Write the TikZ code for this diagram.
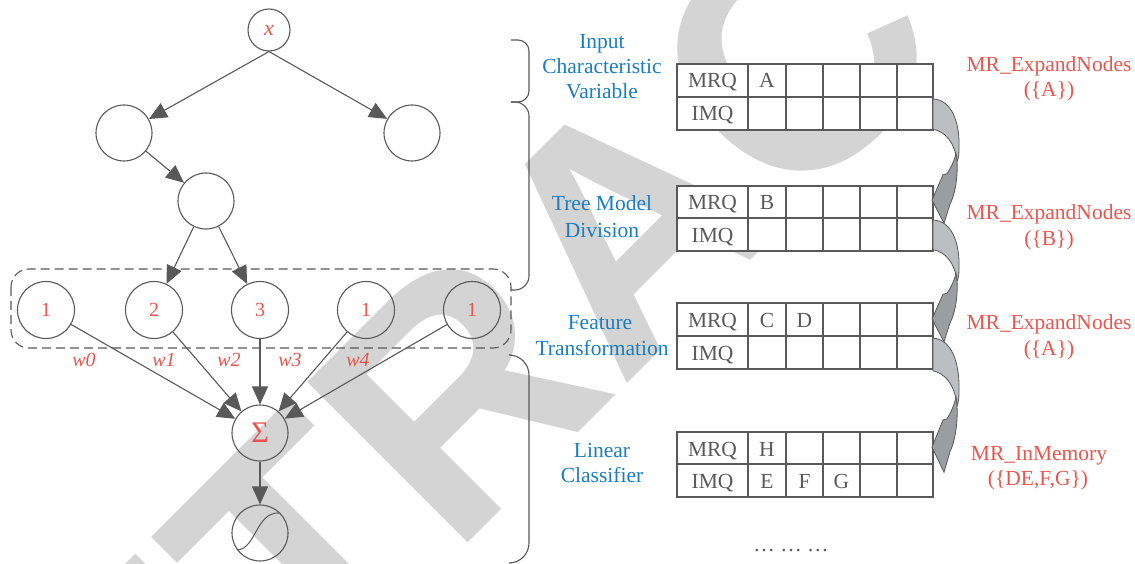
\documentclass[tikz,border=0pt]{standalone}
\usepackage{fontspec}
\setmainfont{Liberation Serif}
\newfontfamily\wmfont{Liberation Sans}
\usetikzlibrary{arrows.meta}
\definecolor{lg}{HTML}{595959}
\definecolor{tred}{RGB}{232,86,78}
\definecolor{tblue}{RGB}{26,125,196}
\definecolor{wmgray}{HTML}{D4D4D4}
\definecolor{alight}{HTML}{BDBEC2}
\definecolor{adark}{HTML}{9C9DA1}
\newcommand\qtable[3]{%
  \filldraw[tab,fill=white] (677,#1) rectangle (933,#3);
  \draw[tab] (677,#2) -- (933,#2);
  \foreach \xx in {748,786,823,860,897} \draw[tab] (\xx,#1) -- (\xx,#3);}
\newcommand\bentarrow[2]{%
  \begin{scope}[shift={(0,#1)},yscale=#2]
    \filldraw[fill=alight,draw=lg,line width=0.8pt] (933,2) .. controls (952,3) and (960,25) .. (959,52) .. controls (959,58) and (958,62) .. (957,64) .. controls (955,45) and (945,34) .. (933,32) -- cycle;
    \filldraw[fill=adark,draw=lg,line width=0.8pt] (956,56) .. controls (959,72) and (956,95) .. (950,106) -- (944,125) -- (932,102) -- (943,77) -- (947,76) .. controls (951,70) and (954,64) .. (956,56) -- cycle;
  \end{scope}}
\begin{document}
\begin{tikzpicture}[x=1pt,y=-1pt,
  circ/.style={circle,draw=lg,line width=1.1pt,minimum size=56pt,inner sep=0pt,text=tred,font=\fontsize{20}{24}\selectfont},
  arr/.style={draw=lg,line width=1.1pt,-{Triangle[length=18pt,width=16pt]}},
  tab/.style={draw=lg,line width=1.1pt},
  cell/.style={anchor=base,inner sep=0pt,text=lg,font=\fontsize{21.5}{25}\selectfont},
  blab/.style={anchor=base,inner sep=0pt,text=tblue,font=\fontsize{21.5}{25}\selectfont},
  rlab/.style={anchor=base,inner sep=0pt,text=tred,font=\fontsize{21.5}{25}\selectfont},
  wlab/.style={inner sep=0pt,text=tred,font=\fontsize{20}{24}\selectfont\itshape},
  brace/.style={draw=lg,line width=1.1pt}
]
\useasboundingbox (0,0) rectangle (1135,564);
\fill[white] (0,0) rectangle (1135,564);
% watermark
\begin{scope}
  \clip (0,0) rectangle (1135,564);
  \node[rotate=45,text=wmgray,inner sep=0pt,font=\wmfont\bfseries\fontsize{330}{330}\selectfont] (wm) at (625,225) {RETRACTED};
\end{scope}
% tree
\node[circ,minimum size=42pt,font=\fontsize{22}{24}\selectfont\itshape] (x) at (269,30) {x};
\node[circ] (l1) at (124,133) {};
\node[circ] (r1) at (412,133) {};
\node[circ] (m1) at (206,201) {};
\draw[dashed,dash pattern=on 9pt off 5pt,draw=lg,line width=1.1pt,rounded corners=18pt] (11,269) rectangle (511,348);
\node[circ,minimum size=57pt] (c1) at (46,310) {1};
\node[circ,minimum size=57pt] (c2) at (154,310) {2};
\node[circ,minimum size=57pt] (c3) at (260,310) {3};
\node[circ,minimum size=57pt] (c4) at (366,310) {1};
\node[circ,minimum size=57pt] (c5) at (472,310) {1};
\node[circ,font=\fontsize{30}{32}\selectfont] (sum) at (260,433) {Σ};
\node[circ] (sig) at (260,533) {};
\draw[draw=lg,line width=1pt] (237,550) .. controls (256,549) and (256,512) .. (279,513);
\draw[arr] (x.south) -- (l1);
\draw[arr] (x.south) -- (r1);
\draw[arr] (l1) -- (m1);
\draw[arr] (m1) -- (c2);
\draw[arr] (m1) -- (c3);
\foreach \n in {c1,c2,c3,c4,c5} \draw[arr] (\n) -- (sum);
\draw[arr] (sum) -- (sig);
\node[wlab] (w0) at (84,360) {w0};
\node[wlab] (w1) at (164,360) {w1};
\node[wlab] (w2) at (229,360) {w2};
\node[wlab] (w3) at (290,360) {w3};
\node[wlab] (w4) at (358,360) {w4};
% braces
\draw[brace,rounded corners=11pt] (511,40) -- (529,40) -- (529,102) -- (511,102);
\draw[brace,rounded corners=14pt] (511,102) -- (529,102) -- (529,290) -- (511,290);
\draw[brace,rounded corners=20pt] (511,355) -- (529,355) -- (529,563) -- (511,563);
% blue labels
\node[blab] (i1) at (602,49) {Input};
\node[blab] (i2) at (602,74) {Characteristic};
\node[blab] (i3) at (602,99) {Variable};
\node[blab] (t1) at (602,211) {Tree Model};
\node[blab] (t2) at (602,237) {Division};
\node[blab] (f1) at (600,329) {Feature};
\node[blab] (f2) at (602,355) {Transformation};
\node[blab] (k1) at (602,457) {Linear};
\node[blab] (k2) at (602,482) {Classifier};
% tables
\qtable{64}{97}{130}
\qtable{186}{218}{251}
\qtable{303}{336}{369}
\qtable{432}{464}{497}
\node[cell] (q1a) at (712.5,88) {MRQ};
\node[cell] (q1b) at (767,88) {A};
\node[cell] (q1c) at (712.5,121) {IMQ};
\node[cell] (q2a) at (712.5,210) {MRQ};
\node[cell] (q2b) at (767,210) {B};
\node[cell] (q2c) at (712.5,242) {IMQ};
\node[cell] (q3a) at (712.5,327) {MRQ};
\node[cell] (q3b) at (767,327) {C};
\node[cell] (q3d) at (804.5,327) {D};
\node[cell] (q3c) at (712.5,360) {IMQ};
\node[cell] (q4a) at (712.5,456) {MRQ};
\node[cell] (q4b) at (767,456) {H};
\node[cell] (q4c) at (712.5,488) {IMQ};
\node[cell] (q4e) at (767,488) {E};
\node[cell] (q4f) at (804.5,488) {F};
\node[cell] (q4g) at (841.5,488) {G};
\node[cell] (dots) at (791,551) {… … …};
% bent arrows
\bentarrow{97}{1.01}
\bentarrow{218}{0.99}
\bentarrow{336}{1.09}
% red labels
\node[rlab] (e1) at (1049,72) {MR\_ExpandNodes};
\node[rlab] (e1b) at (1049,97) {(\{A\})};
\node[rlab] (e2) at (1049,219) {MR\_ExpandNodes};
\node[rlab] (e2b) at (1049,245) {(\{B\})};
\node[rlab] (e3) at (1049,329) {MR\_ExpandNodes};
\node[rlab] (e3b) at (1049,355) {(\{A\})};
\node[rlab] (e4) at (1039,460) {MR\_InMemory};
\node[rlab] (e4b) at (1038,485) {(\{DE,F,G\})};
\end{tikzpicture}
\end{document}
